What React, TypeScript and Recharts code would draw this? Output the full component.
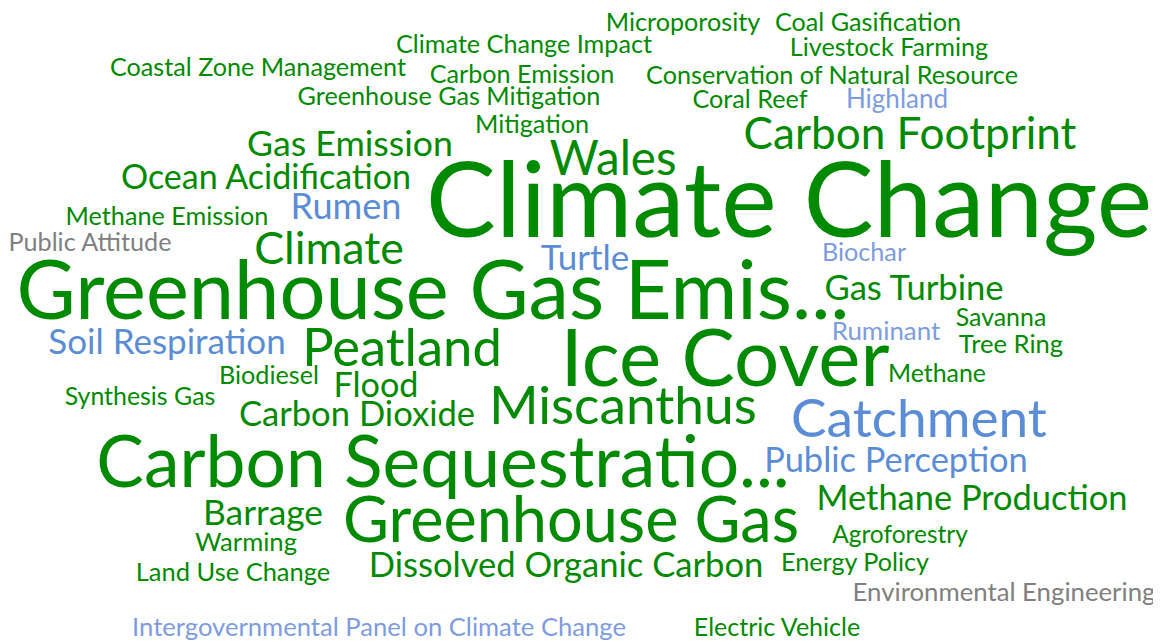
import { ScatterChart, Scatter, XAxis, YAxis } from 'recharts';

// word cloud drawn as a scatter of text labels
const words = [
  'Microporosity', 'Coal Gasification', 'Climate Change Impact', 'Livestock Farming',
  'Coastal Zone Management', 'Carbon Emission', 'Conservation of Natural Resource',
  'Greenhouse Gas Mitigation', 'Coral Reef', 'Highland', 'Mitigation', 'Gas Emission',
  'Carbon Footprint', 'Wales', 'Climate Change', 'Ocean Acidification', 'Methane Emission',
  'Rumen', 'Public Attitude', 'Climate', 'Turtle', 'Biochar', 'Greenhouse Gas Emis...',
  'Gas Turbine', 'Soil Respiration', 'Peatland', 'Ice Cover', 'Ruminant', 'Savanna',
  'Tree Ring', 'Methane', 'Biodiesel', 'Flood', 'Synthesis Gas', 'Carbon Dioxide',
  'Miscanthus', 'Catchment', 'Carbon Sequestratio...', 'Public Perception',
  'Methane Production', 'Barrage', 'Greenhouse Gas', 'Agroforestry', 'Warming',
  'Dissolved Organic Carbon', 'Energy Policy', 'Land Use Change', 'Environmental Engineering',
  'Intergovernmental Panel on Climate Change', 'Electric Vehicle',
];

const weights = [
  18, 18, 18, 18, 18, 18, 18, 18, 18, 18.6, 18, 25.5,
  31.5, 34, 75, 24.3, 18,
  25.8, 18, 32, 25, 18, 58,
  24.7, 25, 37.5, 57, 18.5, 17.8,
  18.3, 17.8, 18, 24.4, 17.8, 24.7,
  38, 38, 51, 24.6,
  24.6, 25.3, 45, 17.5, 18.3,
  24.7, 18, 18.2, 18.4,
  18.3, 17.9,
];

const posX = [
  683, 868, 524, 889, 258, 522, 832, 449, 750, 897, 532, 350,
  910, 613, 789, 266, 167, 346, 90, 329, 585, 864, 433,
  914, 167, 402, 725, 886, 1001, 1011, 937, 269, 376, 140, 357,
  623, 919, 443, 896, 972, 263, 571, 900, 246,
  566, 855, 233, 1004, 379, 777,
];

const posY = [
  31, 31, 53, 56, 76, 83, 84, 105, 108, 108, 133, 156,
  149, 175, 237, 189, 225, 219, 251, 264, 270, 261, 319,
  300, 354, 366, 386, 340, 326, 353, 382, 384, 397, 405, 426,
  424, 437, 487, 472, 510, 525, 542, 543, 551,
  577, 571, 581, 601, 636, 636,
];

// g = green, b = blue, lb = light blue, gr = grey
const groups = [
  'g', 'g', 'g', 'g', 'g', 'g', 'g', 'g', 'g', 'lb', 'g', 'g',
  'g', 'g', 'g', 'g', 'g', 'b', 'gr', 'g', 'b', 'lb', 'g',
  'g', 'b', 'g', 'g', 'lb', 'g', 'g', 'g', 'g', 'g', 'g', 'g',
  'g', 'b', 'g', 'b', 'g', 'g', 'g', 'g', 'g',
  'g', 'g', 'g', 'gr', 'lb', 'g',
];

const colors: Record<string, string> = {
  g: '#008a00',
  b: '#5b8dd6',
  lb: '#7d9ce0',
  gr: '#808080',
};

const data = words.map((w, i) => ({
  word: w,
  weight: weights[i],
  x: posX[i],
  y: posY[i],
  group: groups[i],
}));

const W = 1161;
const H = 641;

function WordShape(props: any) {
  const { cx, cy, payload } = props;
  return (
    <text
      x={cx}
      y={cy}
      textAnchor="middle"
      fontFamily="Lato, sans-serif"
      fontSize={payload.weight * 1.4}
      fill={colors[payload.group]}
    >
      {payload.word}
    </text>
  );
}

export default function App() {
  return (
    <div style={{ margin: '-8px 0 0 -8px', width: W, height: H, background: '#fff' }}>
      <ScatterChart width={W} height={H} margin={{ top: 0, right: 0, bottom: 0, left: 0 }}>
        <XAxis type="number" dataKey="x" domain={[0, W]} hide />
        <YAxis type="number" dataKey="y" domain={[0, H]} reversed hide />
        <Scatter data={data} shape={<WordShape />} isAnimationActive={false} />
      </ScatterChart>
    </div>
  );
}
